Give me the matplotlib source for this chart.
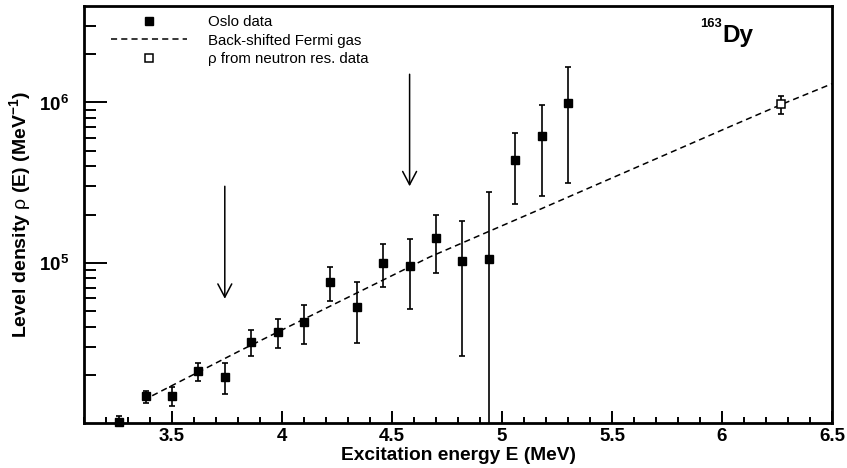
import numpy as np
import matplotlib
matplotlib.use("Agg")
import matplotlib.pyplot as plt
from matplotlib.lines import Line2D
from matplotlib.ticker import FixedLocator, NullFormatter, MultipleLocator

plt.rcParams["font.family"] = ["Liberation Sans", "DejaVu Sans"]
plt.rcParams["mathtext.fontset"] = "custom"
plt.rcParams["mathtext.rm"] = "Liberation Sans"
plt.rcParams["mathtext.it"] = "Liberation Sans:italic"
plt.rcParams["mathtext.bf"] = "Liberation Sans:bold"

# ---- Oslo data ----
energy = [3.26, 3.38, 3.50, 3.62, 3.74, 3.86, 3.98, 4.10, 4.22, 4.34,
          4.46, 4.58, 4.70, 4.82, 4.94, 5.06, 5.18, 5.30]
rho = [1.02e4, 1.47e4, 1.47e4, 2.11e4, 1.95e4, 3.18e4, 3.68e4, 4.25e4, 7.57e4, 5.33e4,
       1.00e5, 9.52e4, 1.43e5, 1.03e5, 1.05e5, 4.36e5, 6.15e5, 9.86e5]
rho_hi = [1.11e4, 1.59e4, 1.67e4, 2.37e4, 2.37e4, 3.78e4, 4.47e4, 5.41e4, 9.35e4, 7.57e4,
          1.30e5, 1.40e5, 2.00e5, 1.81e5, 2.78e5, 6.43e5, 9.66e5, 1.66e6]
rho_lo = [0.93e4, 1.33e4, 1.27e4, 1.84e4, 1.52e4, 2.61e4, 2.93e4, 3.10e4, 5.75e4, 3.15e4,
          7.08e4, 5.13e4, 8.61e4, 2.62e4, 1.0e3, 2.32e5, 2.61e5, 3.16e5]

# rho from neutron resonance data
energy_n = [6.27]
rho_n = [9.72e5]
rho_n_hi = [1.10e6]
rho_n_lo = [8.49e5]

# back-shifted Fermi gas curve
bsfg_e = [3.41, 3.81, 4.67, 5.18, 6.04, 6.27, 6.50]
bsfg_rho = [1.48e4, 2.83e4, 1.084e5, 2.176e5, 7.11e5, 9.72e5, 1.309e6]

# arrows marking the fit limits
arrow_e = [3.74, 4.58]
arrow_top = [3.0e5, 1.5e6]
arrow_tip = [5.96e4, 3.0e5]

xtick_vals = [3.5, 4, 4.5, 5, 5.5, 6, 6.5]
xtick_labels = ["3.5", "4", "4.5", "5", "5.5", "6", "6.5"]
ytick_vals = [1e5, 1e6]
ytick_labels = [r"$\mathbf{10^{5}}$", r"$\mathbf{10^{6}}$"]

fig = plt.figure(figsize=(8.47, 4.68), dpi=100)
ax = fig.add_axes([84 / 847, 1 - 423 / 468, 748 / 847, 417 / 468])

rho = np.array(rho)
yerr = [rho - np.array(rho_lo), np.array(rho_hi) - rho]
ax.errorbar(energy, rho, yerr=yerr, fmt="none", ecolor="black",
            elinewidth=1.2, capsize=2.2, capthick=1.2)
ax.plot(energy, rho, "s", color="black", ms=5.4, clip_on=False, zorder=3)

ax.plot(bsfg_e, bsfg_rho, color="black", lw=1.1, ls=(0, (4, 2.7)))

rn = np.array(rho_n)
ax.errorbar(energy_n, rho_n, yerr=[rn - np.array(rho_n_lo), np.array(rho_n_hi) - rn],
            fmt="none", ecolor="black", elinewidth=1.2, capsize=2.2, capthick=1.2)
ax.plot(energy_n, rho_n, "s", mfc="white", mec="black", mew=1.1, ms=5.4, zorder=3)

for e, top, tip in zip(arrow_e, arrow_top, arrow_tip):
    ax.annotate("", xy=(e, tip), xytext=(e, top),
                arrowprops=dict(arrowstyle="->,head_length=0.95,head_width=0.5",
                                lw=1.1, color="black", shrinkA=0, shrinkB=0))

ax.set_xlim(3.1, 6.5)
ax.set_yscale("log")
ax.set_ylim(1e4, 4e6)

ax.xaxis.set_major_locator(FixedLocator(xtick_vals))
ax.set_xticklabels(xtick_labels, fontsize=13.5, fontweight="bold")
ax.xaxis.set_minor_locator(MultipleLocator(0.1))
ax.yaxis.set_major_locator(FixedLocator(ytick_vals))
ax.set_yticklabels(ytick_labels, fontsize=13.5)
minor_y = [m * 10 ** d for d in (4, 5, 6) for m in range(2, 10) if m * 10 ** d < 4e6]
ax.yaxis.set_minor_locator(FixedLocator(minor_y))
ax.yaxis.set_minor_formatter(NullFormatter())

ax.tick_params(axis="x", which="major", direction="in", length=8.6, width=1.4, pad=3.5)
ax.tick_params(axis="x", which="minor", direction="in", length=4.3, width=1.4)
ax.tick_params(axis="y", which="major", direction="in", length=16.5, width=1.4, pad=10.5)
ax.tick_params(axis="y", which="minor", direction="in", length=8.6, width=1.4)
for s in ax.spines.values():
    s.set_linewidth(2)

ax.set_xlabel("Excitation energy E (MeV)", fontsize=13.8, fontweight="bold")
ax.xaxis.set_label_coords(0.5, -0.057)
ax.set_ylabel(r"Level density $\mathrm{\rho}$ (E) (MeV$^{\mathbf{-1}}$)",
              fontsize=14, fontweight="bold")
ax.yaxis.set_label_coords(-0.068, 0.5)

ax.text(0.854, 0.914, "Dy", transform=ax.transAxes, fontsize=17.5,
        fontweight="bold", ha="left", va="baseline")
ax.text(0.853, 0.950, "163", transform=ax.transAxes, fontsize=9.4,
        fontweight="bold", ha="right", va="baseline")

handles = [
    Line2D([], [], marker="s", ls="none", color="black", ms=5.4),
    Line2D([], [], color="black", lw=1.1, ls=(0, (4, 2.7))),
    Line2D([], [], marker="s", ls="none", mfc="white", mec="black", mew=1.1, ms=5.4),
]
labels = ["Oslo data", "Back-shifted Fermi gas", "\u03c1 from neutron res. data"]
ax.legend(handles, labels, loc="upper left", bbox_to_anchor=(0.036, 0.979),
          frameon=False, fontsize=10.8, handlelength=5.1, handletextpad=1.4,
          labelspacing=0.32, borderpad=0, borderaxespad=0, numpoints=1)

fig.savefig("out.png", dpi=100)
